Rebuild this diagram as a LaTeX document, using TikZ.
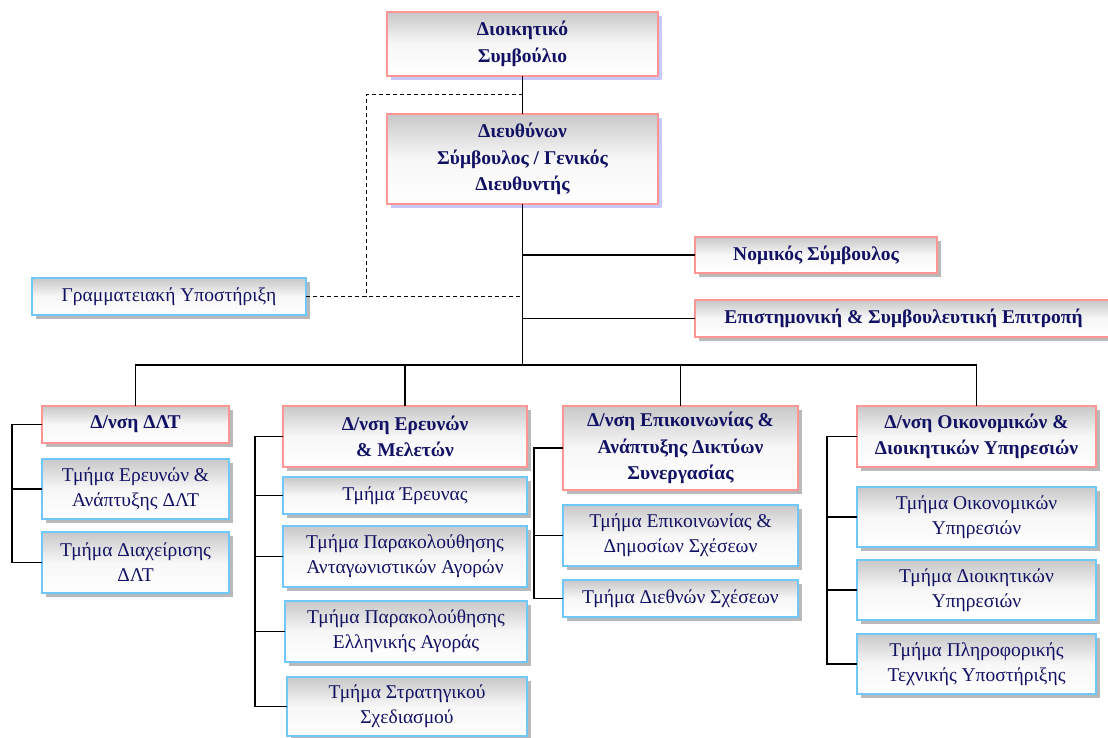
\documentclass[tikz,border=0pt]{standalone}
\usepackage{fontspec}
\setmainfont{Liberation Serif}
\usetikzlibrary{shadows}
\definecolor{txt}{RGB}{18,18,100}
\definecolor{pinkb}{RGB}{255,150,150}
\definecolor{blueb}{RGB}{110,200,250}
\definecolor{boxtop}{RGB}{200,200,200}
\definecolor{shgray}{RGB}{185,185,185}
\definecolor{shlav}{RGB}{200,200,250}
\begin{document}
\begin{tikzpicture}[x=1pt,y=-1pt,
  basebox/.style={line width=1.3pt, top color=boxtop, bottom color=white, middle color=white!97!black, text=txt,
    align=center, inner sep=0pt, outer sep=0pt, anchor=north west,
    font=\fontsize{19.5}{25}\selectfont},
  headbox/.style={basebox, draw=pinkb, font=\fontsize{19.5}{26.5}\selectfont\bfseries,
    drop shadow={shadow xshift=4pt, shadow yshift=-4pt, fill=shgray, opacity=1}},
  topbox/.style={basebox, draw=pinkb, font=\fontsize{19.5}{26.5}\selectfont\bfseries,
    drop shadow={shadow xshift=4pt, shadow yshift=-4pt, fill=shlav, opacity=1}},
  subbox/.style={basebox, draw=blueb,
    drop shadow={shadow xshift=4pt, shadow yshift=-4pt, fill=shgray, opacity=1}},
  conn/.style={line width=1.1pt, black},
  dconn/.style={line width=1pt, black, dash pattern=on 4pt off 3pt}
]
\useasboundingbox (0,0) rectangle (1108,738);

% top
\node[topbox, minimum width=271pt, minimum height=64pt] (top) at (387,12) {Διοικητικό\\Συμβούλιο};
\node[topbox, minimum width=271pt, minimum height=90pt] (ceo) at (387,114) {Διευθύνων\\Σύμβουλος / Γενικός\\Διευθυντής};
\node[subbox, minimum width=274pt, minimum height=37pt] (secr) at (32,278) {Γραμματειακή Υποστήριξη};
\node[headbox, minimum width=242pt, minimum height=36pt] (legal) at (695,237) {Νομικός Σύμβουλος};
\node[headbox, minimum width=417pt, minimum height=37pt] (sci) at (695,300) {Επιστημονική \& Συμβουλευτική Επιτροπή};

% column 1
\node[headbox, minimum width=187pt, minimum height=37pt] (dlt) at (42,406) {Δ/νση ΔΛΤ};
\node[subbox, minimum width=187pt, minimum height=60pt] (dlt1) at (42,459) {Τμήμα Ερευνών \&\\Ανάπτυξης ΔΛΤ};
\node[subbox, minimum width=187pt, minimum height=61pt] (dlt2) at (42,532) {Τμήμα Διαχείρισης\\ΔΛΤ};

% column 2
\node[headbox, minimum width=244pt, minimum height=61pt] (res) at (283,406) {Δ/νση Ερευνών\\\& Μελετών};
\node[subbox, minimum width=244pt, minimum height=37pt] (res1) at (283,477) {Τμήμα Έρευνας};
\node[subbox, minimum width=244pt, minimum height=61pt] (res2) at (283,526) {Τμήμα Παρακολούθησης\\Ανταγωνιστικών Αγορών};
\node[subbox, minimum width=242pt, minimum height=61pt] (res3) at (285,601) {Τμήμα Παρακολούθησης\\Ελληνικής Αγοράς};
\node[subbox, minimum width=240pt, minimum height=59pt] (res4) at (287,677) {Τμήμα Στρατηγικού\\Σχεδιασμού};

% column 3
\node[headbox, minimum width=235pt, minimum height=84pt] (com) at (563,406) {Δ/νση Επικοινωνίας \&\\Ανάπτυξης Δικτύων\\Συνεργασίας};
\node[subbox, minimum width=235pt, minimum height=61pt] (com1) at (563,505) {Τμήμα Επικοινωνίας \&\\Δημοσίων Σχέσεων};
\node[subbox, minimum width=235pt, minimum height=37pt] (com2) at (563,580) {Τμήμα Διεθνών Σχέσεων};

% column 4
\node[headbox, minimum width=239pt, minimum height=61pt] (fin) at (857,406) {Δ/νση Οικονομικών \&\\Διοικητικών Υπηρεσιών};
\node[subbox, minimum width=239pt, minimum height=60pt] (fin1) at (857,487) {Τμήμα Οικονομικών\\Υπηρεσιών};
\node[subbox, minimum width=239pt, minimum height=60pt] (fin2) at (857,560) {Τμήμα Διοικητικών\\Υπηρεσιών};
\node[subbox, minimum width=239pt, minimum height=60pt] (fin3) at (857,634) {Τμήμα Πληροφορικής\\Τεχνικής Υποστήριξης};

% coordinates
\coordinate (bus) at (522,365);
\coordinate (d1) at (366,95);
\coordinate (b1) at (12,0);
\coordinate (b2) at (255,0);
\coordinate (b3) at (534,0);
\coordinate (b4) at (827,0);

% main spine
\draw[conn] (top.south) -- (ceo.north);
\draw[conn] (ceo.south) -- (ceo.south |- bus);
\draw[conn] (ceo.south |- legal.west) -- (legal.west);
\draw[conn] (ceo.south |- sci.west) -- (sci.west);
\draw[dconn] (top.south |- d1) -- (d1) -- (d1 |- secr.east);
\draw[dconn] (secr.east) -- (ceo.south |- secr.east);

% bus
\draw[conn] (dlt.north) |- (bus) -| (fin.north);
\draw[conn] (res.north) -- (res.north |- bus);
\draw[conn] (com.north) -- (com.north |- bus);

% brackets
\draw[conn] (dlt.west) -- (dlt.west -| b1) |- (dlt2.west);
\draw[conn] (dlt1.west) -- (dlt1.west -| b1);

\draw[conn] (res.west) -- (res.west -| b2) |- (res4.west);
\draw[conn] (res1.west) -- (res1.west -| b2);
\draw[conn] (res2.west) -- (res2.west -| b2);
\draw[conn] (res3.west) -- (res3.west -| b2);

\draw[conn] (com.west) -- (com.west -| b3) |- (com2.west);
\draw[conn] (com1.west) -- (com1.west -| b3);

\draw[conn] (fin.west) -- (fin.west -| b4) |- (fin3.west);
\draw[conn] (fin1.west) -- (fin1.west -| b4);
\draw[conn] (fin2.west) -- (fin2.west -| b4);
\end{tikzpicture}
\end{document}
